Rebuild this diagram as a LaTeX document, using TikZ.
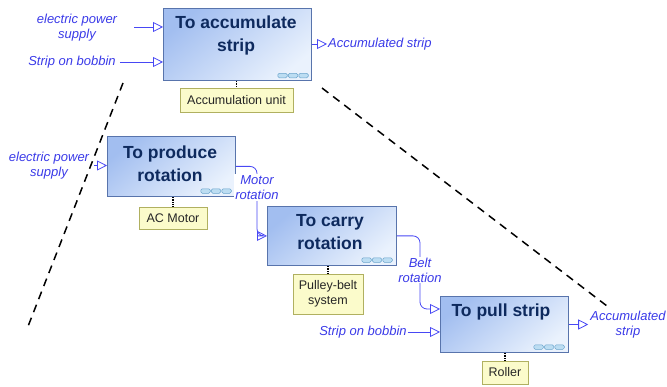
\documentclass[tikz,border=0pt]{standalone}
\usepackage{fontspec}
\setmainfont{Liberation Sans}
\usetikzlibrary{arrows.meta,calc}
\definecolor{boxtop}{HTML}{A2BEF0}
\definecolor{boxbot}{HTML}{EAF2FD}
\definecolor{boxline}{HTML}{5874AC}
\definecolor{navy}{HTML}{0E2A5E}
\definecolor{flowblue}{HTML}{4848F4}
\definecolor{flowtxtcol}{HTML}{3A3AE8}
\definecolor{labyel}{HTML}{FBFBCB}
\definecolor{labline}{HTML}{B0B060}
\definecolor{chainfill}{HTML}{BCDDF2}
\definecolor{chainline}{HTML}{6AA4CC}
\begin{document}
\begin{tikzpicture}[x=1pt,y=-1pt,
  fbox/.style={draw=boxline, line width=0.8pt, top color=boxtop, bottom color=boxbot, shading angle=40, anchor=north west, inner sep=0pt},
  title/.style={font=\fontsize{17.5}{22.5}\selectfont\bfseries, text=navy, align=center, inner sep=0pt},
  lab/.style={draw=labline, fill=labyel, line width=0.6pt, font=\fontsize{12.5}{15}\selectfont, text=black!85, align=center, inner sep=2pt},
  flowtxt/.style={font=\fontsize{13}{15}\selectfont\itshape, text=flowtxtcol, align=center, inner sep=1pt},
  flow/.style={draw=flowblue, line width=0.8pt, -{Triangle[open, length=10pt, width=10pt]}},
  mech/.style={draw=black, line width=1.2pt, dash pattern=on 1pt off 0.8pt},
  dashline/.style={draw=black, line width=1.5pt, dash pattern=on 8pt off 6pt},
  pics/chain/.style={code={
    \foreach \i in {0,1,2} \draw[draw=chainline, fill=chainfill, rounded corners=1.5pt, line width=0.5pt] (\i*10.5,0) rectangle ++(9.5,4.5);
  }}
]
\useasboundingbox (0,0) rectangle (667,387);

% dashed decomposition lines
\draw[dashline] (123,83) -- (27,329);
\draw[dashline] (322,88) -- (607,306);

% ---------- Box 1 ----------
\node[fbox, minimum width=148pt, minimum height=72pt] (b1) at (163,8) {};
\node[title] (t1) at (236,35.5) {To accumulate\\strip};
\pic at ($(b1.south east)+(-34,-7.5)$) {chain};
\node[lab, minimum width=113pt, minimum height=24pt] (u1) at (236.5,100) {Accumulation unit};
\draw[mech] (b1.south -| u1.north) -- (u1.north);

\node[flowtxt] (e1) at (77,27.5) {electric power\\supply};
\coordinate (e1s) at (134,27);
\draw[flow] (e1s) -- (e1s -| b1.west);
\node[flowtxt] (s1) at (72,62) {Strip on bobbin};
\draw[flow] ([xshift=3pt]s1.east) -- (s1.east -| b1.west);
\node[flowtxt, anchor=west] (o1) at (327,44) {Accumulated strip};
\draw[flow] (o1.west -| b1.east) -- (o1.west);

% ---------- Box 2 ----------
\node[fbox, minimum width=128pt, minimum height=60pt] (b2) at (107,136) {};
\node[title] (t2) at (170,163.5) {To produce\\rotation};
\pic at ($(b2.south east)+(-35,-8)$) {chain};
\node[lab, minimum width=68pt, minimum height=22pt] (u2) at (173,218) {AC Motor};
\draw[mech] (b2.south -| u2.north) -- (u2.north);

\node[flowtxt] (e2) at (49,165.5) {electric power\\supply};
\draw[flow] ([xshift=4pt]e2.east) -- (e2.east -| b2.west);

% ---------- Box 3 ----------
\node[fbox, minimum width=129pt, minimum height=59pt] (b3) at (267,206) {};
\node[title] (t3) at (330,232) {To carry\\rotation};
\pic at ($(b3.south east)+(-35,-8)$) {chain};
\node[lab, minimum width=70pt, minimum height=40pt] (u3) at (328,294) {Pulley-belt\\system};
\draw[mech] (b3.south -| u3.north) -- (u3.north);

% Motor rotation
\node[flowtxt] (mr) at (257,187.5) {Motor\\rotation};
\draw[flow, rounded corners=7pt] (b2.east) -| (mr.center) |- (b3.west);
\node[flowtxt, fill=white] at (mr) {Motor\\rotation};

% ---------- Box 4 ----------
\node[fbox, minimum width=128pt, minimum height=56pt] (b4) at (440,296) {};
\node[title] (t4) at (501,311.5) {To pull strip};
\pic at ($(b4.south east)+(-35,-8)$) {chain};
\node[lab, minimum width=46pt, minimum height=23pt] (u4) at (505,372.5) {Roller};
\draw[mech] (b4.south -| u4.north) -- (u4.north);

% Belt rotation
\node[flowtxt] (br) at (420,270) {Belt\\rotation};
\draw[flow, rounded corners=7pt] (b3.east) -| (br.center) |- ($(b4.north west)+(0,13)$);
\node[flowtxt, fill=white] at (br) {Belt\\rotation};

\node[flowtxt] (s4) at (363,332) {Strip on bobbin};
\draw[flow] (s4.east) -- (s4.east -| b4.west);
\node[flowtxt] (o4) at (628,324.5) {Accumulated\\strip};
\draw[flow] (o4.west -| b4.east) -- ([xshift=-1pt]o4.west);
\end{tikzpicture}
\end{document}
